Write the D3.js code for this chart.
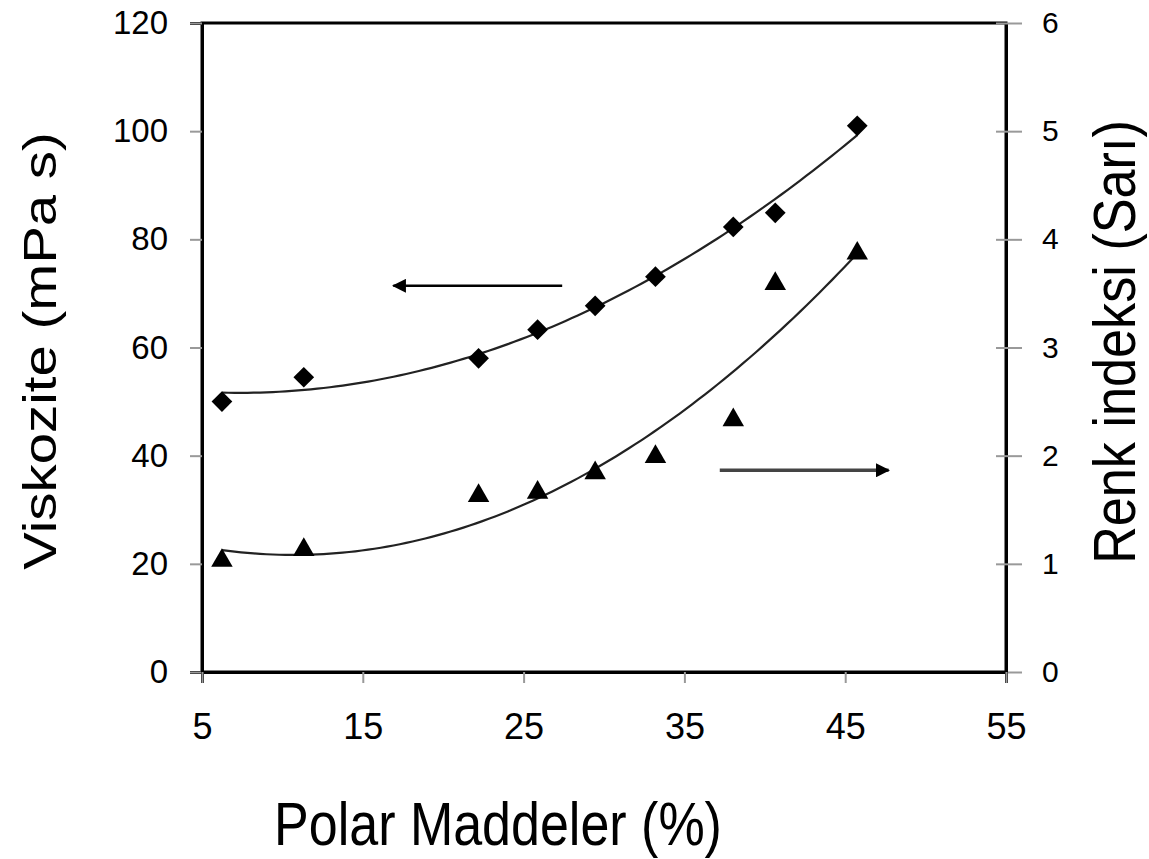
<!DOCTYPE html>
<html>
<head>
<meta charset="utf-8">
<script src="https://cdn.jsdelivr.net/npm/d3@7"></script>
<style>
body{margin:0;background:#fff;}
text{font-family:"Liberation Sans",Arial,sans-serif;fill:#000;}
</style>
</head>
<body>
<svg id="chart" width="1149" height="859"></svg>
<script>
// data
const polar = [6.24, 11.33, 22.2, 25.87, 29.45, 33.2, 38.04, 40.65, 45.75];
const viskozite = [50.0, 54.5, 58.0, 63.3, 67.7, 73.1, 82.3, 84.9, 101.0];
const renk = [1.03, 1.13, 1.63, 1.66, 1.84, 1.99, 2.33, 3.59, 3.87];
const xTicks = [5, 15, 25, 35, 45, 55];
const yTicks = [0, 20, 40, 60, 80, 100, 120];
const y2Ticks = [0, 1, 2, 3, 4, 5, 6];
// arrows: [x from, x to, y]
const leftArrow = [27.4, 16.9, 71.4];
const rightArrow = [37.2, 47.7, 1.865];

const svg = d3.select("#chart");
const pLeft = 202, pRight = 1006, pTop = 23, pBottom = 672;

let x = d3.scaleLinear().domain([5, 55]).range([pLeft, pRight]);
let y = d3.scaleLinear().domain([0, 120]).range([pBottom, pTop]);
let y2 = d3.scaleLinear().domain([0, 6]).range([pBottom, pTop]);

// quadratic trendline (least squares, like the spreadsheet)
function polyFit(xs, ys) {
  let S = [[0,0,0],[0,0,0],[0,0,0]], T = [0,0,0];
  xs.forEach((xi, k) => {
    let p = [1, xi, xi*xi];
    for (let i=0;i<3;i++){ T[i]+=p[i]*ys[k]; for (let j=0;j<3;j++) S[i][j]+=p[i]*p[j]; }
  });
  for (let i=0;i<3;i++){
    for (let r=i+1;r<3;r++){
      let f = S[r][i]/S[i][i];
      for (let c=i;c<3;c++) S[r][c]-=f*S[i][c];
      T[r]-=f*T[i];
    }
  }
  let b=[0,0,0];
  for (let i=2;i>=0;i--){ let s=T[i]; for (let j=i+1;j<3;j++) s-=S[i][j]*b[j]; b[i]=s/S[i][i]; }
  return v => b[0]+b[1]*v+b[2]*v*v;
}
let fitV = polyFit(polar, viskozite);
let fitR = polyFit(polar, renk);
let xs = d3.range(0, 101).map(i => polar[0] + (polar[polar.length-1]-polar[0])*i/100);

// frame
svg.append("rect").attr("x", pLeft).attr("y", pTop).attr("width", pRight-pLeft).attr("height", pBottom-pTop)
  .attr("fill", "none").attr("stroke", "#000").attr("stroke-width", 3);

// axes
let axL = svg.append("g").attr("transform", "translate(" + pLeft + ",0)")
  .call(d3.axisLeft(y).tickValues(yTicks).tickSize(12).tickPadding(22));
let axR = svg.append("g").attr("transform", "translate(" + pRight + ",0)")
  .call(d3.axisRight(y2).tickValues(y2Ticks).tickFormat(d3.format("d")).tickSizeInner(16).tickSizeOuter(0).tickPadding(20));
let axB = svg.append("g").attr("transform", "translate(0," + pBottom + ")")
  .call(d3.axisBottom(x).tickValues(xTicks).tickSize(11).tickPadding(30));
[axL, axR, axB].forEach(g => {
  g.select(".domain").attr("stroke", "#000").attr("stroke-width", 3);
  g.selectAll(".tick line").attr("stroke", "#999").attr("stroke-width", 2);
  g.selectAll(".tick text").attr("font-size", 33).attr("fill", "#222")
    .style("font-family", "'Liberation Sans',Arial,sans-serif");
});
axR.selectAll(".tick line").attr("x1", -10);
axB.selectAll(".tick text").attr("font-size", 36);
axR.selectAll(".tick text").attr("font-size", 30);

// trendlines
let lineV = d3.line().x(d => x(d)).y(d => y(fitV(d)));
let lineR = d3.line().x(d => x(d)).y(d => y2(fitR(d)));
svg.append("path").attr("d", lineV(xs)).attr("fill", "none").attr("stroke", "#222").attr("stroke-width", 2.2);
svg.append("path").attr("d", lineR(xs)).attr("fill", "none").attr("stroke", "#222").attr("stroke-width", 2.2);

// markers
svg.selectAll(".dia").data(polar).enter().append("path").attr("class", "dia")
  .attr("transform", (d, i) => "translate(" + x(d) + "," + y(viskozite[i]) + ") rotate(45)")
  .attr("d", d3.symbol().type(d3.symbolSquare).size(215)).attr("fill", "#000");
svg.selectAll(".tri").data(polar).enter().append("path").attr("class", "tri")
  .attr("transform", (d, i) => "translate(" + x(d) + "," + y2(renk[i]) + ")")
  .attr("d", d3.symbol().type(d3.symbolTriangle).size(200)).attr("fill", "#000");

// arrows
let defs = svg.append("defs");
defs.append("marker").attr("id", "head").attr("viewBox", "0 0 10 10").attr("refX", 9).attr("refY", 5)
  .attr("markerWidth", 14).attr("markerHeight", 14).attr("markerUnits", "userSpaceOnUse").attr("orient", "auto")
  .append("path").attr("d", "M0,0L10,5L0,10z").attr("fill", "#000");
svg.append("line").attr("x1", x(leftArrow[0])).attr("x2", x(leftArrow[1]))
  .attr("y1", y(leftArrow[2])).attr("y2", y(leftArrow[2]))
  .attr("stroke", "#000").attr("stroke-width", 2.5).attr("marker-end", "url(#head)");
svg.append("line").attr("x1", x(rightArrow[0])).attr("x2", x(rightArrow[1]))
  .attr("y1", y2(rightArrow[2])).attr("y2", y2(rightArrow[2]))
  .attr("stroke", "#444").attr("stroke-width", 3.5).attr("marker-end", "url(#head)");

// axis titles
svg.append("text").attr("transform", "translate(498,845) scale(1,1.17)")
  .attr("text-anchor", "middle").attr("font-size", 52).text("Polar Maddeler (%)");
svg.append("text").attr("transform", "translate(56,351) scale(1,1.2) rotate(-90)")
  .attr("text-anchor", "middle").attr("font-size", 47).text("Viskozite (mPa s)");
svg.append("text").attr("transform", "translate(1135,342) scale(1,0.87) rotate(-90)")
  .attr("text-anchor", "middle").attr("font-size", 60).text("Renk indeksi (Sarı)");
</script>
</body>
</html>
